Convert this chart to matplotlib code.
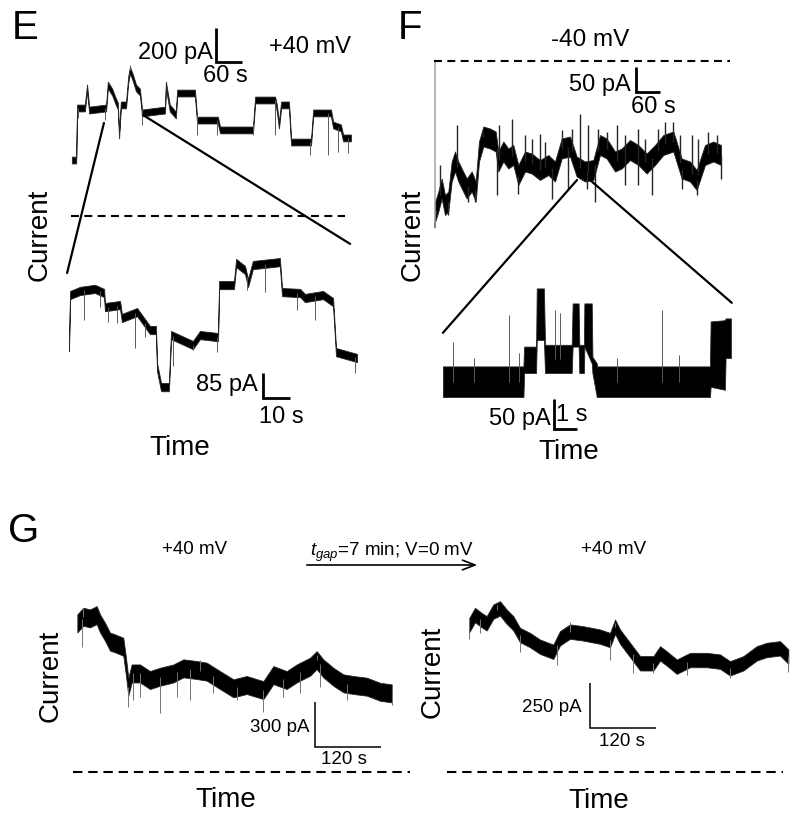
import numpy as np
import matplotlib
matplotlib.use('Agg')
import matplotlib.pyplot as plt
from matplotlib.patches import ConnectionPatch

plt.rcParams['font.family'] = ['Liberation Sans', 'DejaVu Sans']
plt.rcParams['mathtext.fontset'] = 'custom'
plt.rcParams['mathtext.it'] = 'Liberation Sans:italic'
plt.rcParams['mathtext.rm'] = 'Liberation Sans'

# ---- data (time in s, current in pA) ----
# E, +40 mV, long record
e_top_t = [2, 12, 14, 32, 37, 42, 81, 85, 95, 102, 108, 111, 115, 127, 132, 136, 143, 150,
           159, 164, 217, 219, 228, 242, 245, 286, 291, 339, 344, 420, 425, 471, 475, 480,
           485, 503, 508, 554, 559, 600, 605, 623, 628, 646]
e_top_i = [329, 329, 635, 635, 753, 623, 635, 770, 729, 682, 647, 476, 653, 653, 800, 858,
           811, 753, 729, 606, 623, 770, 635, 594, 723, 723, 564, 564, 506, 506, 682, 682,
           635, 535, 653, 653, 435, 435, 606, 606, 535, 518, 459, 459]
e_top_noise = 20
e_top_spk_t = [17, 78, 136, 163, 290, 336, 421, 471, 552, 594, 617, 640]
e_top_spk_i = [574, 564, 890, 535, 476, 476, 476, 476, 359, 359, 378, 369]
# E, zoomed segment
e_bot_t = [80, 80.4, 84.1, 89.6, 93.0, 93.3, 98.9, 99.6, 105.2, 110.0, 112.2, 112.6, 114.1,
           117.0, 117.8, 125.9, 128.5, 135.2, 135.6, 141.1, 141.9, 145.2, 146.3, 148.1,
           158.1, 158.9, 165.6, 167.4, 174.1, 177.8, 178.9, 186.7]
e_bot_i = [564, 741, 755, 762, 748, 700, 707, 663, 683, 622, 622, 496, 428, 428, 605, 571,
           605, 598, 775, 775, 850, 826, 782, 843, 853, 751, 748, 731, 741, 717, 547, 527]
e_bot_noise = 14
e_bot_spk_t = [85.7, 91.4, 94.5, 97.6, 104.4, 108.1, 118.6, 126, 134.7, 145.8, 152.6,
               164.3, 171.1, 185.9]
e_bot_spk_i = [656, 701, 650, 645, 560, 599, 500, 554, 548, 758, 752, 690, 656, 475]

# F, -40 mV, long record
f_cap_t = [0, 0, 2]
f_cap_i = [0, -334, -300]
f_top_t = [1, 8.3, 16.7, 25, 33.3, 41.7, 50, 58.3, 66.7, 79.2, 91.7, 101.7, 110, 120.8,
           137.5, 151.7, 158.3, 170.8, 183.3, 195.8, 208.3, 225, 241.7, 262.5, 283.3, 300,
           316.7, 337.5, 354.2, 375, 395.8, 412.5, 429.2, 450, 466.7, 487.5, 508.3, 529.2,
           550, 570.8, 595.8, 616.7, 637.5, 654.2, 675, 695.8, 715]
f_top_i = [-300, -281, -255, -288, -281, -221, -201, -221, -235, -255, -241, -261, -181,
           -151, -155, -161, -201, -181, -195, -188, -228, -201, -205, -218, -208, -221,
           -175, -171, -211, -221, -218, -168, -175, -201, -195, -178, -188, -205, -188,
           -168, -161, -215, -221, -238, -188, -181, -188]
f_top_noise = 20
f_top_spk_t = [12.5, 54.2, 120.8, 160, 193.3, 225, 241.7, 262.5, 275, 316.7, 341.7, 362.5,
               383.3, 408.3, 429.2, 454.2, 475, 508.3, 525, 558.3, 575, 595.8, 612.5,
               641.7, 658.3, 683.3, 704.2,
               33.3, 83.3, 100, 154.2, 208.3, 291.7, 333.3, 379.2, 400, 475, 508.3, 541.7,
               616.7, 654.2, 715]
f_top_spk_i = [-208, -128, -141, -128, -115, -148, -155, -145, -161, -138, -135, -105,
               -128, -135, -141, -128, -148, -135, -155, -135, -121, -121, -148, -148,
               -155, -141, -148,
               -308, -281, -281, -268, -265, -275, -255, -255, -281, -248, -248, -268,
               -255, -268, -235]
# F, zoomed segment (band edges)
f_bot_t = [0.04, 3.54, 3.57, 4.09, 4.12, 4.43, 4.48, 5.64, 5.68, 5.94, 5.97, 6.17, 6.19,
           6.51, 6.54, 6.73, 6.75, 11.65, 11.68, 12.30, 12.33, 12.56]
f_bot_hi = [26, 26, 59, 59, 156, 156, 62, 62, 131, 131, 62, 62, 131, 131, 42, 31, 26, 26,
            101, 103, 106, 106]
f_bot_lo = [-25, -25, 15, 15, 70, 70, 15, 15, 59, 59, 15, 15, 59, 31, 15, -25, -25, -25,
            -8, -13, 40, 40]
f_bot_spk_t = [0.49, 1.4, 2.93, 3.36, 4.91, 5.13, 7.6, 9.55, 10.3]
f_bot_spk_i = [67, 40, 112, 48, 120, 115, 40, 120, 45]

# G, +40 mV before and after the 7 min gap at 0 mV
g_l_t = [0.6, 11.5, 23.6, 35.8, 41.8, 50.9, 60, 69, 84.2, 89, 93.3, 99.4, 114.5, 132.7,
         150.9, 175.2, 193.4, 217.6, 235.8, 260, 284.3, 308.5, 338.8, 357, 381.2, 399.4,
         423.6, 435.7, 447.8, 466, 484.2, 502.4, 526.7, 550.9, 572.1]
g_l_i = [991, 1035, 1024, 1046, 991, 935, 869, 858, 835, 702, 569, 657, 657, 613, 635, 657,
         691, 680, 669, 613, 558, 580, 546, 646, 613, 657, 702, 746, 691, 635, 591, 580,
         569, 535, 524]
g_l_noise = 60
g_l_spk_t = [8.5, 93.3, 102.4, 114.5, 150.9, 181.2, 205.4, 248, 290.3, 338.8, 375.2,
             405.5, 441.8, 490.3, 572.1, 11.5, 223.6, 435.7]
g_l_spk_i = [835, 435, 480, 502, 391, 502, 480, 524, 480, 402, 502, 524, 569, 480, 446,
             1091, 746, 780]
g_r_t = [0.6, 10.9, 23, 32.1, 44.2, 56.4, 68.5, 80.6, 92.7, 110.9, 129.1, 153.3, 165.4,
         183.6, 207.9, 238.2, 256.4, 265.5, 274.6, 292.8, 311, 335.2, 347.4, 359.5, 377.7,
         401.9, 432.2, 456.4, 474.5, 498.8, 523, 541.2, 565.5, 580.6]
g_r_i = [817, 872, 844, 826, 891, 909, 863, 826, 761, 733, 696, 668, 743, 780, 770, 752,
         733, 807, 752, 678, 604, 604, 659, 631, 585, 622, 622, 613, 576, 604, 659, 678,
         687, 641]
g_r_noise = 40
g_r_spk_t = [0.6, 20, 92.7, 159.4, 256.4, 298.8, 335.2, 395.8, 474.5, 580.6, 183.6, 265.5,
             50.3]
g_r_spk_i = [740, 770, 668, 594, 622, 548, 548, 539, 520, 557, 835, 826, 928]

# scale bars: (pA, s)
e_top_bar = (200, 60)
e_bot_bar = (85, 10)
f_top_bar = (50, 60)
f_bot_bar = (50, 1)
g_l_bar = (300, 120)
g_r_bar = (250, 120)

W, H = 800, 818
fig = plt.figure(figsize=(W / 100, H / 100), dpi=100)


def trace_axes(box, x0, sx, y0, sy):
    # box in pixels (left, top, right, bottom); x0/y0 = pixel of t=0 / I=0
    l, t, r, b = box
    ax = fig.add_axes([l / W, 1 - b / H, (r - l) / W, (b - t) / H])
    ax.set_xlim((l - x0) * sx, (r - x0) * sx)
    ax.set_ylim((y0 - b) * sy, (y0 - t) * sy)
    ax.axis('off')
    return ax


def band(ax, t, mid, half):
    t = np.asarray(t, float)
    mid = np.asarray(mid, float)
    ax.fill_between(t, mid - half, mid + half, color='k', lw=0.6, edgecolor='0.15')


def spikes(ax, t, mid_t, mid_i, ext, color='0.35', lw=0.7):
    base = np.interp(t, mid_t, mid_i)
    ax.vlines(t, base, ext, color=color, lw=lw)


def scalebar(ax, t0, i0, amp, dur, lw=2):
    ax.plot([t0, t0, t0 + dur], [i0 + amp, i0, i0], color='k', lw=lw,
            solid_joinstyle='miter', solid_capstyle='butt')


def ftext(x, y, s, **kw):
    kw.setdefault('ha', 'center')
    kw.setdefault('va', 'center')
    fig.text(x / W, 1 - y / H, s, **kw)


dash = (0, (3.8, 2.6))

# ---- E ----
ax_e1 = trace_axes((55, 15, 380, 225), 71, 2.308, 216, 5.88)
band(ax_e1, e_top_t, e_top_i, e_top_noise)
spikes(ax_e1, e_top_spk_t, e_top_t, e_top_i, e_top_spk_i)
ax_e1.hlines(0, 0, 632, color='k', lw=1.5, linestyles=dash)
scalebar(ax_e1, 335, 906, *e_top_bar)

ax_e2 = trace_axes((55, 250, 380, 430), -147, 1 / 2.7, 513, 3.4)
band(ax_e2, e_bot_t, e_bot_i, e_bot_noise)
spikes(ax_e2, e_bot_spk_t, e_bot_t, e_bot_i, e_bot_spk_i)
scalebar(ax_e2, 151.9, 391, *e_bot_bar)

for a, b in [((76, 547), (79.3, 816)), ((166, 594), (184.1, 915))]:
    fig.add_artist(ConnectionPatch(xyA=a, coordsA=ax_e1.transData, xyB=b,
                                   coordsB=ax_e2.transData, lw=1.6, color='k'))

# ---- F ----
ax_f1 = trace_axes((425, 25, 745, 240), 435, 2.5, 61, 2)
ax_f1.plot(f_cap_t, f_cap_i, color='0.5', lw=0.8)
band(ax_f1, f_top_t, f_top_i, f_top_noise)
spikes(ax_f1, f_top_spk_t, f_top_t, f_top_i, f_top_spk_i, color='0.15', lw=1.0)
ax_f1.hlines(0, -2.5, 737, color='k', lw=1.5, linestyles=dash)
scalebar(ax_f1, 502, -62, *f_top_bar)

ax_f2 = trace_axes((425, 270, 745, 440), 442, 1 / 23, 382, 1.667)
ax_f2.fill_between(f_bot_t, f_bot_lo, f_bot_hi, color='k', lw=0.6, edgecolor='0.15')
mid_f = (np.array(f_bot_hi) + np.array(f_bot_lo)) / 2
spikes(ax_f2, f_bot_spk_t, f_bot_t, mid_f, f_bot_spk_i)
scalebar(ax_f2, 4.87, -78, *f_bot_bar)

for a, b in [((355, -238), (0.04, 82)), ((387.5, -238), (12.6, 132))]:
    fig.add_artist(ConnectionPatch(xyA=a, coordsA=ax_f1.transData, xyB=b,
                                   coordsB=ax_f2.transData, lw=1.6, color='k'))

# ---- G ----
ax_g1 = trace_axes((60, 590, 420, 785), 77, 1.818, 772, 6.667)
band(ax_g1, g_l_t, g_l_i, g_l_noise)
spikes(ax_g1, g_l_spk_t, g_l_t, g_l_i, g_l_spk_i, color='0.45')
ax_g1.hlines(0, -7.3, 605, color='k', lw=1.5, linestyles=(0, (4.5, 2.8)))
scalebar(ax_g1, 433, 167, *g_l_bar, lw=1.1)

ax_g2 = trace_axes((440, 590, 795, 785), 469, 1.818, 772, 5.556)
band(ax_g2, g_r_t, g_r_i, g_r_noise)
spikes(ax_g2, g_r_spk_t, g_r_t, g_r_i, g_r_spk_i, color='0.45')
ax_g2.hlines(0, -40, 571, color='k', lw=1.5, linestyles=(0, (4.5, 2.8)))
scalebar(ax_g2, 220, 244, *g_r_bar, lw=1.1)

ax_g1.annotate('', xy=(480 / W, 1 - 565 / H), xytext=(304 / W, 1 - 565 / H),
               xycoords='figure fraction', textcoords='figure fraction',
               arrowprops=dict(arrowstyle='->,head_length=0.9,head_width=0.35', lw=1.2))

# ---- text ----
ftext(12, 28, 'E', fontsize=29, ha='left')
ftext(398, 28, 'F', fontsize=29, ha='left')
ftext(8, 531, 'G', fontsize=29, ha='left')

ftext(213, 53, '200 pA', fontsize=17, ha='right')
ftext(225, 76, '60 s', fontsize=17)
ftext(310, 47, '+40 mV', fontsize=17)
ftext(40, 235, 'Current', fontsize=20, rotation=90)
ftext(180, 448, 'Time', fontsize=20)
ftext(258, 385, '85 pA', fontsize=17, ha='right')
ftext(281, 417, '10 s', fontsize=17)

ftext(590, 40, '-40 mV', fontsize=17.5)
ftext(413, 235, 'Current', fontsize=20, rotation=90)
ftext(631, 85, '50 pA', fontsize=17, ha='right')
ftext(653, 107, '60 s', fontsize=17)
ftext(551, 419, '50 pA', fontsize=17, ha='right')
ftext(556, 415, '1 s', fontsize=17, ha='left')
ftext(569, 452, 'Time', fontsize=20)

ftext(195, 550, '+40 mV', fontsize=13.5)
ftext(392, 552, r'$t_{gap}$=7 min; V=0 mV', fontsize=13.5)
ftext(614, 550, '+40 mV', fontsize=13.5)
ftext(51, 676, 'Current', fontsize=20, rotation=90)
ftext(433, 672, 'Current', fontsize=20, rotation=90)
ftext(226, 800, 'Time', fontsize=20)
ftext(599, 801, 'Time', fontsize=20)
ftext(310, 727, '300 pA', fontsize=13.5, ha='right')
ftext(344, 760, '120 s', fontsize=13.5)
ftext(582, 708, '250 pA', fontsize=13.5, ha='right')
ftext(622, 742, '120 s', fontsize=13.5)

fig.savefig('out.png', dpi=100)
